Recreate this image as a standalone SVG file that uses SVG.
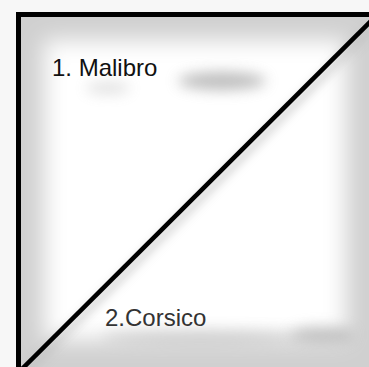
<svg xmlns="http://www.w3.org/2000/svg" width="369" height="367" viewBox="0 0 369 367">
<defs>
<style>
.lbl{font-family:"Liberation Sans",Arial,sans-serif;font-size:24px}
.edge{fill:none;stroke:#000;stroke-width:5}
.smudge{fill:#9a9a9a;filter:url(#bl)}
</style>
<filter id="glow" x="-20%" y="-20%" width="140%" height="140%"><feGaussianBlur stdDeviation="11"/></filter>
<filter id="bl" x="-50%" y="-300%" width="200%" height="700%"><feGaussianBlur stdDeviation="7"/></filter>
<filter id="ls" x="-10%" y="-10%" width="120%" height="120%"><feGaussianBlur stdDeviation="5"/></filter>
<clipPath id="sq"><rect x="18.5" y="14.5" width="360" height="360"/></clipPath>
</defs>
<rect width="369" height="367" fill="#f7f7f7"/>
<g clip-path="url(#sq)">
<rect x="18.5" y="14.5" width="360" height="360" fill="#d0d0d0"/>
<rect x="44" y="40" width="302" height="300" fill="#ffffff" filter="url(#glow)"/>
<line x1="26" y1="372" x2="375" y2="24" stroke="#bbb" stroke-width="8" filter="url(#ls)" opacity="0.6"/>
</g>
<g id="node-malibro">
<ellipse class="smudge" cx="108" cy="88" rx="22" ry="6" opacity="0.3"/>
<ellipse class="smudge" cx="222" cy="81" rx="44" ry="9" opacity="0.65"/>
<text class="lbl" x="52" y="76" fill="#111">1. Malibro</text>
</g>
<g id="node-corsico">
<ellipse class="smudge" cx="200" cy="337" rx="100" ry="7" opacity="0.35"/>
<ellipse class="smudge" cx="322" cy="335" rx="32" ry="8" opacity="0.55"/>
<text class="lbl" x="105" y="326" fill="#333">2.Corsico</text>
</g>
<g id="connectors">
<path class="edge" d="M18.5 375 V14.5 H375"/>
<line x1="22" y1="369" x2="371" y2="21" stroke="#000" stroke-width="4.5"/>
</g>
</svg>
